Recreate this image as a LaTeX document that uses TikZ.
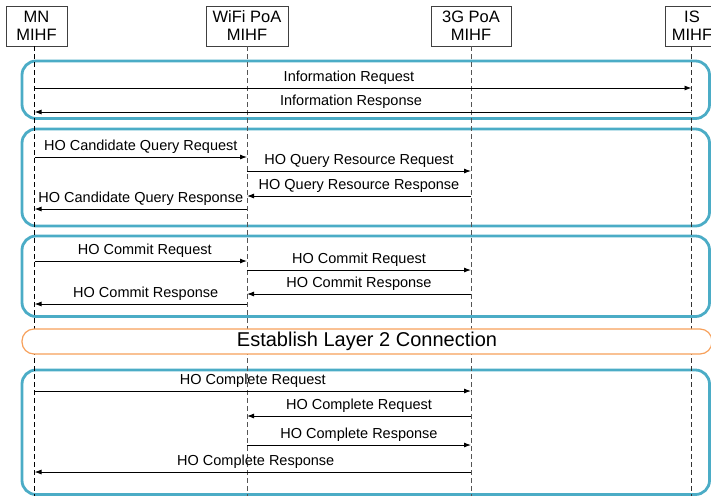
\documentclass[tikz,border=0pt]{standalone}
\usepackage{fontspec}
\setmainfont{Liberation Sans}
\usetikzlibrary{arrows.meta,calc}
\definecolor{grpblue}{RGB}{75,172,198}
\definecolor{grporange}{RGB}{247,160,90}
\definecolor{lifegray}{RGB}{85,85,85}
\begin{document}
\begin{tikzpicture}[x=1pt,y=-1pt,
  actor/.style={draw=black!75, line width=0.8pt, minimum height=40pt, inner sep=0pt,
    align=center, font=\fontsize{16.5}{18}\selectfont, fill=white},
  lifeline/.style={dash pattern=on 5pt off 3pt, line width=1pt},
  group/.style={draw=grpblue, line width=2.8pt, rounded corners=14pt},
  msg/.style={-{Latex[length=7pt,width=5pt]}, line width=0.9pt},
  lbl/.style={anchor=base, yshift=6.5pt, font=\fontsize{14.5}{16}\selectfont, inner sep=0pt}
]
\useasboundingbox (0,0) rectangle (711,496);

% groups
\draw[group] (22,61) rectangle (709.5,118.5);
\draw[group] (22,129) rectangle (709.5,226);
\draw[group] (22,236) rectangle (709.5,316.5);
\draw[group] (22,370) rectangle (709.5,494.5);

% actors
\node[actor, minimum width=61pt] (mn) at (36.5,26) {MN\\MIHF};
\node[actor, minimum width=82pt] (wifi) at (247,26) {WiFi PoA\\MIHF};
\node[actor, minimum width=80pt] (g3) at (471,26) {3G PoA\\MIHF};
\node[actor, minimum width=54pt] (is) at (692,26) {IS\\MIHF};

% lifelines
\coordinate (mnT) at (34.5,46);   \coordinate (mnB) at (34.5,496);
\coordinate (wifiT) at (247,46);  \coordinate (wifiB) at (247,496);
\coordinate (gT) at (471,46);     \coordinate (gB) at (471,496);
\coordinate (isT) at (691.5,46);  \coordinate (isB) at (691.5,496);
\draw[lifeline, black] (mnT) -- (mnB);
\draw[lifeline, lifegray] (wifiT) -- (wifiB);
\draw[lifeline, lifegray] (gT) -- (gB);
\draw[lifeline, black!80] (isT) -- (isB);

% layer 2 band
\node[draw=grporange, fill=white, line width=1.2pt, rounded corners=12pt,
  minimum width=690pt, minimum height=25pt, inner sep=0pt,
  font=\fontsize{20}{22}\selectfont] (l2) at (367,341.5) {Establish Layer 2 Connection};

% messages
\draw[msg] (mnT |- 0,88) -- (isT |- 0,88) node[lbl, midway, xshift=-14pt] {Information Request};
\draw[msg] (isT |- 0,112) -- (mnT |- 0,112) node[lbl, midway, xshift=-12pt] {Information Response};

\draw[msg] (mnT |- 0,157) -- (wifiT |- 0,157) node[lbl, midway] {HO Candidate Query Request};
\draw[msg] (wifiT |- 0,171) -- (gT |- 0,171) node[lbl, midway] {HO Query Resource Request};
\draw[msg] (gT |- 0,196) -- (wifiT |- 0,196) node[lbl, midway] {HO Query Resource Response};
\draw[msg] (wifiT |- 0,209) -- (mnT |- 0,209) node[lbl, midway] {HO Candidate Query Response};

\draw[msg] (mnT |- 0,261) -- (wifiT |- 0,261) node[lbl, midway, xshift=4pt] {HO Commit Request};
\draw[msg] (wifiT |- 0,270) -- (gT |- 0,270) node[lbl, midway] {HO Commit Request};
\draw[msg] (gT |- 0,294) -- (wifiT |- 0,294) node[lbl, midway] {HO Commit Response};
\draw[msg] (wifiT |- 0,304) -- (mnT |- 0,304) node[lbl, midway, xshift=5pt] {HO Commit Response};

\draw[msg] (mnT |- 0,391) -- (gT |- 0,391) node[lbl, midway] {HO Complete Request};
\draw[msg] (gT |- 0,416) -- (wifiT |- 0,416) node[lbl, midway] {HO Complete Request};
\draw[msg] (wifiT |- 0,445) -- (gT |- 0,445) node[lbl, midway] {HO Complete Response};
\draw[msg] (gT |- 0,472) -- (mnT |- 0,472) node[lbl, midway, xshift=3pt] {HO Complete Response};
\end{tikzpicture}
\end{document}
